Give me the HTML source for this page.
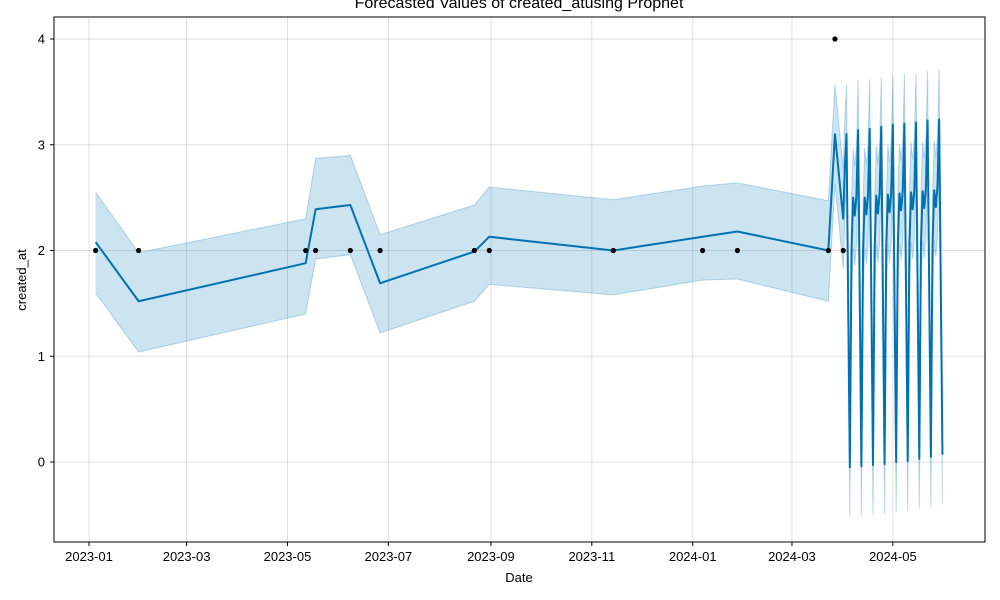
<!DOCTYPE html>
<html><head><meta charset="utf-8"><style>
html,body{margin:0;padding:0;background:#fff;}
svg{display:block;font-family:"Liberation Sans","DejaVu Sans",sans-serif;}
</style></head><body>
<svg id="chart" width="1000" height="600" viewBox="0 0 1000 600" xmlns="http://www.w3.org/2000/svg">
<rect x="0" y="0" width="1000" height="600" fill="#fff"/>
<g id="grid"></g>
<g id="band"></g>
<g id="line"></g>
<g id="pts"></g>
<rect x="54" y="17" width="931" height="525" fill="none" stroke="#000" stroke-width="1"/>
<g id="axes"></g>
<text x="519" y="8" text-anchor="middle" font-size="16">Forecasted Values of created_atusing Prophet</text>
<text x="519" y="582" text-anchor="middle" font-size="13">Date</text>
<text transform="translate(26,280) rotate(-90)" text-anchor="middle" font-size="13">created_at</text>
</svg>
<script>
// day offsets from 2023-01-01
const histDays=[4,30,131,137,158,176,233,242,317,371,392,447];
const histYhat=[2.08,1.52,1.88,2.39,2.43,1.69,1.99,2.13,2.0,2.13,2.18,2.0];
const histUpper=[2.55,1.98,2.3,2.87,2.9,2.15,2.43,2.6,2.48,2.61,2.64,2.47];
const histLower=[1.6,1.04,1.4,1.92,1.96,1.22,1.52,1.68,1.58,1.72,1.73,1.52];
const fcDays=[451,456,457,458,459,460,461,462,463,464,465,466,467,468,469,470,471,472,473,474,475,476,477,478,479,480,481,482,483,484,485,486,487,488,489,490,491,492,493,494,495,496,497,498,499,500,501,502,503,504,505,506,507,508,509,510,511,512,513,514,515,516];
const fcYhat=[3.1,2.3,2.8,3.1,1.5,
-0.05,2.0,2.5,2.33,2.52,3.14,1.55,
-0.04,2.0,2.5,2.34,2.53,3.15,1.56,
-0.03,2.02,2.52,2.35,2.54,3.17,1.57,
-0.02,2.03,2.53,2.36,2.55,3.19,1.58,
0.0,2.04,2.54,2.38,2.57,3.2,1.6,
0.01,2.05,2.55,2.39,2.58,3.21,1.61,
0.03,2.06,2.56,2.4,2.6,3.23,1.63,
0.05,2.07,2.57,2.41,2.61,3.24,1.64,
0.07];
const fcUpper=[3.57,2.77,3.27,3.57,1.97,
0.42,2.47,2.97,2.8,2.99,3.61,2.02,
0.43,2.47,2.97,2.81,3.0,3.62,2.03,
0.44,2.49,2.99,2.82,3.01,3.64,2.04,
0.45,2.5,3.0,2.83,3.02,3.66,2.05,
0.47,2.51,3.01,2.85,3.04,3.67,2.07,
0.48,2.52,3.02,2.86,3.05,3.68,2.08,
0.5,2.53,3.03,2.87,3.07,3.7,2.1,
0.52,2.54,3.04,2.88,3.08,3.71,2.11,
0.54];
const fcLower=[2.63,1.83,2.33,2.63,1.03,
-0.52,1.53,2.03,1.86,2.05,2.67,1.08,
-0.51,1.53,2.03,1.87,2.06,2.68,1.09,
-0.5,1.55,2.05,1.88,2.07,2.7,1.1,
-0.49,1.56,2.06,1.89,2.08,2.72,1.11,
-0.47,1.57,2.07,1.91,2.1,2.73,1.13,
-0.46,1.58,2.08,1.92,2.11,2.74,1.14,
-0.44,1.59,2.09,1.93,2.13,2.76,1.16,
-0.42,1.6,2.1,1.94,2.14,2.77,1.17,
-0.4];
const obsDays=[4,30,131,137,158,176,233,242,317,371,392,447,451,456];
const obsVals=[2,2,2,2,2,2,2,2,2,2,2,2,4,2];
const xTickDays=[0,59,120,181,243,304,365,425,486];
const xTickLabels=["2023-01","2023-03","2023-05","2023-07","2023-09","2023-11","2024-01","2024-03","2024-05"];
const yTicks=[0,1,2,3,4];

const X=d=>89+d*1.654;
const Y=v=>462-v*105.75;
const NS="http://www.w3.org/2000/svg";
function mk(tag,attrs,parent){const e=document.createElementNS(NS,tag);for(const k in attrs)e.setAttribute(k,attrs[k]);parent.appendChild(e);return e;}
const grid=document.getElementById('grid'),axes=document.getElementById('axes');
xTickDays.forEach((d,i)=>{
  const g=mk('line',{x1:X(d),x2:X(d),y1:17,y2:542,stroke:'#000','stroke-opacity':0.12,'stroke-width':1},grid);
  
  
  const t=mk('line',{x1:X(d),x2:X(d),y1:542,y2:546,stroke:'#000'},axes);
  
  
  const l=mk('text',{x:X(d),y:561,'text-anchor':'middle','font-size':13},axes);
  l.textContent=xTickLabels[i];
  
  
});
yTicks.forEach(v=>{
  const g=mk('line',{x1:54,x2:985,y1:Y(v),y2:Y(v),stroke:'#000','stroke-opacity':0.12,'stroke-width':1},grid);
  
  
  const t=mk('line',{x1:50,x2:54,y1:Y(v),y2:Y(v),stroke:'#000'},axes);
  
  
  const l=mk('text',{x:45,y:Y(v)+4.5,'text-anchor':'end','font-size':13},axes);
  l.textContent=String(v);
  
  
});
const days=histDays.concat(fcDays),yh=histYhat.concat(fcYhat),up=histUpper.concat(fcUpper),lo=histLower.concat(fcLower);
const upPts=days.map((d,i)=>X(d)+','+Y(up[i]));
const loPts=days.map((d,i)=>X(d)+','+Y(lo[i]));
const band=document.getElementById('band');
const poly=mk('polygon',{points:upPts.concat(loPts.slice().reverse()).join(' '),fill:'#0072B2','fill-opacity':0.2,stroke:'none'},band);


[upPts,loPts].forEach(p=>{
  const e=mk('polyline',{points:p.join(' '),fill:'none',stroke:'#0072B2','stroke-opacity':0.25,'stroke-width':1},band);
  
  
});
const ln=mk('polyline',{points:days.map((d,i)=>X(d)+','+Y(yh[i])).join(' '),fill:'none',stroke:'#0072B2','stroke-width':2,'stroke-linejoin':'round'},document.getElementById('line'));


const pts=document.getElementById('pts');
obsDays.forEach((d,i)=>{
  const c=mk('circle',{cx:X(d),cy:Y(obsVals[i]),r:2.6,fill:'#000'},pts);
  
  
});
</script>
</body></html>
